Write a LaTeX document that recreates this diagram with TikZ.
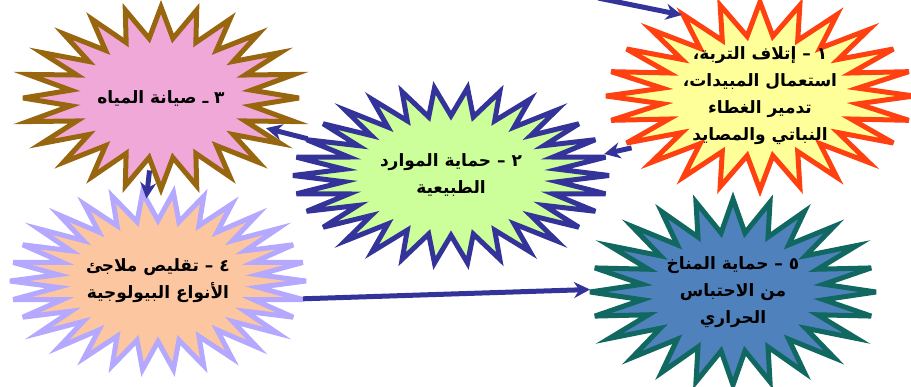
\documentclass[tikz,border=0pt]{standalone}
\usepackage{fontspec}
\newfontfamily\arabicfont[Script=Arabic]{DejaVu Sans}
\TeXXeTstate=1
\usetikzlibrary{calc,arrows.meta,shapes.geometric}
\pgfdeclarelayer{under}
\pgfsetlayers{under,main}

\definecolor{linkblue}{RGB}{51,51,153}
\definecolor{soilfill}{RGB}{255,255,153}
\definecolor{soildraw}{RGB}{255,64,16}
\definecolor{resfill}{RGB}{204,255,153}
\definecolor{resdraw}{RGB}{51,51,153}
\definecolor{waterfill}{RGB}{240,168,216}
\definecolor{waterdraw}{RGB}{153,102,16}
\definecolor{habfill}{RGB}{252,198,160}
\definecolor{habdraw}{RGB}{180,168,255}
\definecolor{climfill}{RGB}{79,129,189}
\definecolor{climdraw}{RGB}{16,104,96}

\tikzset{
  burst line/.style={line width=5pt,line join=miter,miter limit=6},
  burst text/.style={ellipse,inner sep=0pt,outer sep=0pt,align=center,
    font=\arabicfont\bfseries\fontsize{17}{27}\selectfont},
  link/.style={draw=linkblue,line width=5pt,-{Stealth[length=16pt,width=16pt]}}
}

% name, centre, rx, ry, tips, ratio, fill, border, text
\newcommand{\burst}[9]{%
  \pgfmathtruncatemacro{\bursttips}{2*#5}
  \draw[burst line,fill=#7,draw=#8,shift={(#2)}]
    plot[samples at={0,...,\bursttips},variable=\k]
      ({#3*cos(180*\k/#5)*(1-(1-#6)*mod(\k,2))},{#4*sin(180*\k/#5)*(1-(1-#6)*mod(\k,2))}) -- cycle;
  \node[burst text,minimum width={2*#3pt},minimum height={2*#4pt}] (#1) at (#2) {#9};
}

\begin{document}
\begin{tikzpicture}[x=1pt,y=-1pt]
  \useasboundingbox (0,0) rectangle (911,387);
  % stars
  \burst{resources}{451,175.5}{158}{88}{30}{0.68}{resfill}{resdraw}
    {\beginR ٢ – حماية الموارد\endR\\\beginR الطبيعية\endR}
  \burst{soil}{760,96}{154}{94}{24}{0.64}{soilfill}{soildraw}
    {\beginR ١ – إتلاف التربة،\endR\\\beginR استعمال المبيدات،\endR\\\beginR تدمير الغطاء\endR\\\beginR النباتي والمصايد\endR}
  \burst{climate}{733,292}{143}{93}{24}{0.64}{climfill}{climdraw}
    {\beginR ٥ – حماية المناخ\endR\\\beginR من الاحتباس\endR\\\beginR الحراري\endR}
  \begin{pgfonlayer}{under}
    \burst{habitat}{158,281}{148}{89}{30}{0.68}{habfill}{habdraw}
      {\beginR ٤ – تقليص ملاجئ\endR\\\beginR الأنواع البيولوجية\endR}
    \burst{water}{161,98}{138}{91}{24}{0.66}{waterfill}{waterdraw}
      {\beginR ٣ ـ صيانة المياه\endR}
    \draw[link] ($(water)!0.8!(water.-99)$) -- ($(habitat)!0.93!(habitat.98)$);
    \draw[link] (resources) -- ($(water)!0.83!(water.-16)$);
  \end{pgfonlayer}
  % links
  \coordinate (feed) at (598,-2);
  \draw[link] (feed) -- (soil.134);
  \draw[link] (soil.202) -- (resources.8);
  \draw[link] (habitat.-7) -- (climate.179);
\end{tikzpicture}
\end{document}
